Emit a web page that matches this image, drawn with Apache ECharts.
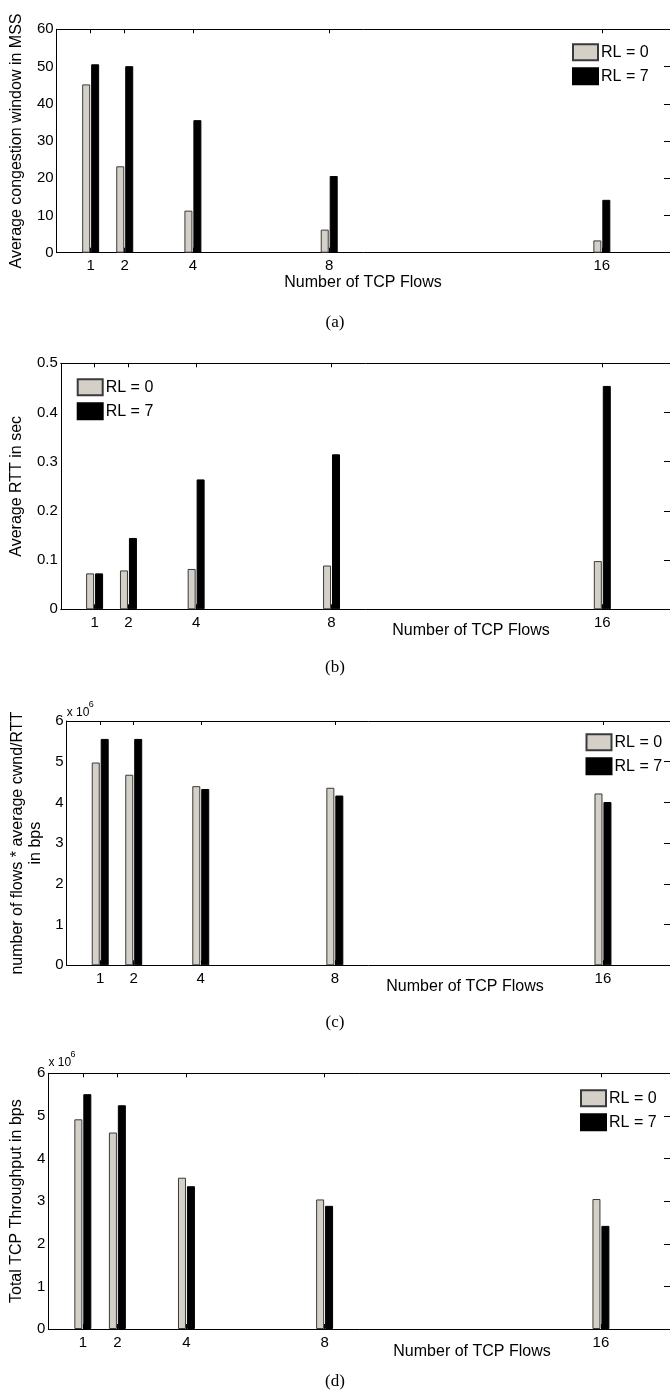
<!DOCTYPE html>
<html>
<head>
<meta charset="utf-8">
<script src="https://cdn.jsdelivr.net/npm/echarts@6/dist/echarts.min.js"></script>
<style>
html, body { margin: 0; padding: 0; background: #fff; }
#main { width: 670px; height: 1394px; }
</style>
</head>
<body>
<div id="main"></div>
<script>
// data
var flows = [1, 2, 4, 8, 16];
var legendNames = ['RL = 0', 'RL = 7'];

var cwndRL0 = [45.2, 23.2, 11.3, 6.2, 3.3];
var cwndRL7 = [50.6, 50.1, 35.6, 20.6, 14.2];
var cwndTicks = [0, 10, 20, 30, 40, 50, 60];

var rttRL0 = [0.073, 0.079, 0.082, 0.089, 0.098];
var rttRL7 = [0.073, 0.145, 0.264, 0.315, 0.454];
var rttTicks = [0, 0.1, 0.2, 0.3, 0.4, 0.5];

var rateRL0 = [4.98e6, 4.68e6, 4.40e6, 4.36e6, 4.22e6];
var rateRL7 = [5.56e6, 5.56e6, 4.33e6, 4.17e6, 4.01e6];
var rateTicks = [0, 1e6, 2e6, 3e6, 4e6, 5e6, 6e6];

var thrRL0 = [4.92e6, 4.61e6, 3.55e6, 3.04e6, 3.05e6];
var thrRL7 = [5.51e6, 5.25e6, 3.35e6, 2.89e6, 2.42e6];
var thrTicks = [0, 1e6, 2e6, 3e6, 4e6, 5e6, 6e6];

var xMax = 18;
var sans = 'Liberation Sans, Arial, Helvetica, sans-serif';
var serif = 'Liberation Serif, Times New Roman, serif';

// layout of the four panels
var panels = [
    {rl0: cwndRL0, rl7: cwndRL7, ticks: cwndTicks, scale: 1,
     grid: {left: 55.5, top: 29.3, width: 618, height: 223.4},
     yName: 'Average congestion window in MSS', nameGap: 28,
     legend: {left: 572, top: 43.3},
     xName: [363, 283], caption: ['(a)', 335, 323]},
    {rl0: rttRL0, rl7: rttRL7, ticks: rttTicks, scale: 1,
     grid: {left: 57.3, top: 363.3, width: 618, height: 246},
     yName: 'Average RTT in sec', nameGap: 33,
     legend: {left: 76.7, top: 378.3},
     xName: [471, 631], caption: ['(b)', 335, 668]},
    {rl0: rateRL0, rl7: rateRL7, ticks: rateTicks, scale: 1e6,
     grid: {left: 66.7, top: 721, width: 608, height: 244.3},
     yName: 'number of flows * average cwnd/RTT\nin bps', nameGap: 20,
     legend: {left: 585.5, top: 733.3},
     xName: [465, 987], caption: ['(c)', 335, 1023],
     exp: [66.7, 713]},
    {rl0: thrRL0, rl7: thrRL7, ticks: thrTicks, scale: 1e6,
     grid: {left: 48.3, top: 1073.3, width: 625, height: 255.7},
     yName: 'Total TCP Throughput in bps', nameGap: 21,
     legend: {left: 580, top: 1089.3},
     xName: [472, 1352], caption: ['(d)', 335, 1382],
     exp: [48.5, 1063]}
];

var chart = echarts.init(document.getElementById('main'));

var grids = [], xAxes = [], yAxes = [], series = [], legends = [], graphics = [];
var axisLine = {show: true, onZero: false, lineStyle: {color: '#000', width: 1}};

panels.forEach(function (p, i) {
    grids.push(p.grid);
    var ymin = p.ticks[0], ymax = p.ticks[p.ticks.length - 1];
    var step = p.ticks[1] - p.ticks[0];

    xAxes.push({
        type: 'value', gridIndex: i, min: 0, max: xMax, position: 'bottom',
        axisLine: axisLine, splitLine: {show: false},
        axisTick: {show: true, inside: true, length: 5, customValues: flows, lineStyle: {color: '#000'}},
        axisLabel: {customValues: flows, color: '#000', fontSize: 15, fontFamily: sans, margin: 6}
    });
    xAxes.push({
        type: 'value', gridIndex: i, min: 0, max: xMax, position: 'top',
        axisLine: axisLine, splitLine: {show: false},
        axisTick: {show: true, inside: true, length: 4, customValues: flows, lineStyle: {color: '#000'}},
        axisLabel: {show: false}
    });
    yAxes.push({
        type: 'value', gridIndex: i, min: ymin, max: ymax, interval: step, position: 'left',
        axisLine: axisLine, splitLine: {show: false}, axisTick: {show: false},
        axisLabel: {color: '#000', fontSize: 15, fontFamily: sans, margin: 3,
            formatter: function (v) { return String(+(v / p.scale).toFixed(2)); }},
        name: p.yName, nameLocation: 'middle', nameGap: p.nameGap,
        nameTextStyle: {color: '#000', fontSize: 16, fontFamily: sans, lineHeight: 18}
    });
    yAxes.push({
        type: 'value', gridIndex: i, min: ymin, max: ymax, interval: step, position: 'right',
        axisLine: axisLine, splitLine: {show: false},
        axisTick: {show: true, inside: true, length: 6, lineStyle: {color: '#000'}},
        axisLabel: {show: false}
    });

    series.push({
        name: legendNames[0], type: 'bar', xAxisIndex: 2 * i, yAxisIndex: 2 * i,
        barWidth: 8, barGap: '12%',
        itemStyle: {color: '#d4d0c8', borderColor: '#3a3a3a', borderWidth: 1},
        data: flows.map(function (f, k) { return [f, p.rl0[k]]; })
    });
    series.push({
        name: legendNames[1], type: 'bar', xAxisIndex: 2 * i, yAxisIndex: 2 * i,
        barWidth: 8, barGap: '12%',
        itemStyle: {color: '#000', borderColor: '#000', borderWidth: 1},
        data: flows.map(function (f, k) { return [f, p.rl7[k]]; })
    });

    legends.push({
        data: legendNames, orient: 'vertical', left: p.legend.left, top: p.legend.top,
        padding: 0, itemWidth: 25, itemHeight: 16, itemGap: 6, icon: 'rect',
        selectedMode: false,
        textStyle: {color: '#000', fontSize: 16, fontFamily: sans, padding: [0, 0, 0, -2]}
    });

    graphics.push({
        type: 'text', x: p.xName[0], y: p.xName[1],
        style: {text: 'Number of TCP Flows', fill: '#000', font: '16px ' + sans,
                textAlign: 'center', textVerticalAlign: 'middle'}
    });
    graphics.push({
        type: 'text', x: p.caption[1], y: p.caption[2],
        style: {text: p.caption[0], fill: '#000', font: '17px ' + serif,
                textAlign: 'center', textVerticalAlign: 'middle'}
    });
    if (p.exp) {
        // the "x 10^6" multiplier above the y axis
        graphics.push({
            type: 'text', x: p.exp[0], y: p.exp[1],
            style: {text: 'x 10', fill: '#000', font: '12px ' + sans,
                    textAlign: 'left', textVerticalAlign: 'middle'}
        });
        graphics.push({
            type: 'text', x: p.exp[0] + 22, y: p.exp[1] - 8,
            style: {text: '6', fill: '#000', font: '9px ' + sans,
                    textAlign: 'left', textVerticalAlign: 'middle'}
        });
    }
});

var option = {
    animation: false,
    backgroundColor: '#fff',
    textStyle: {fontFamily: sans},
    grid: grids,
    xAxis: xAxes,
    yAxis: yAxes,
    legend: legends,
    series: series,
    graphic: graphics
};
chart.setOption(option);
</script>
</body>
</html>
